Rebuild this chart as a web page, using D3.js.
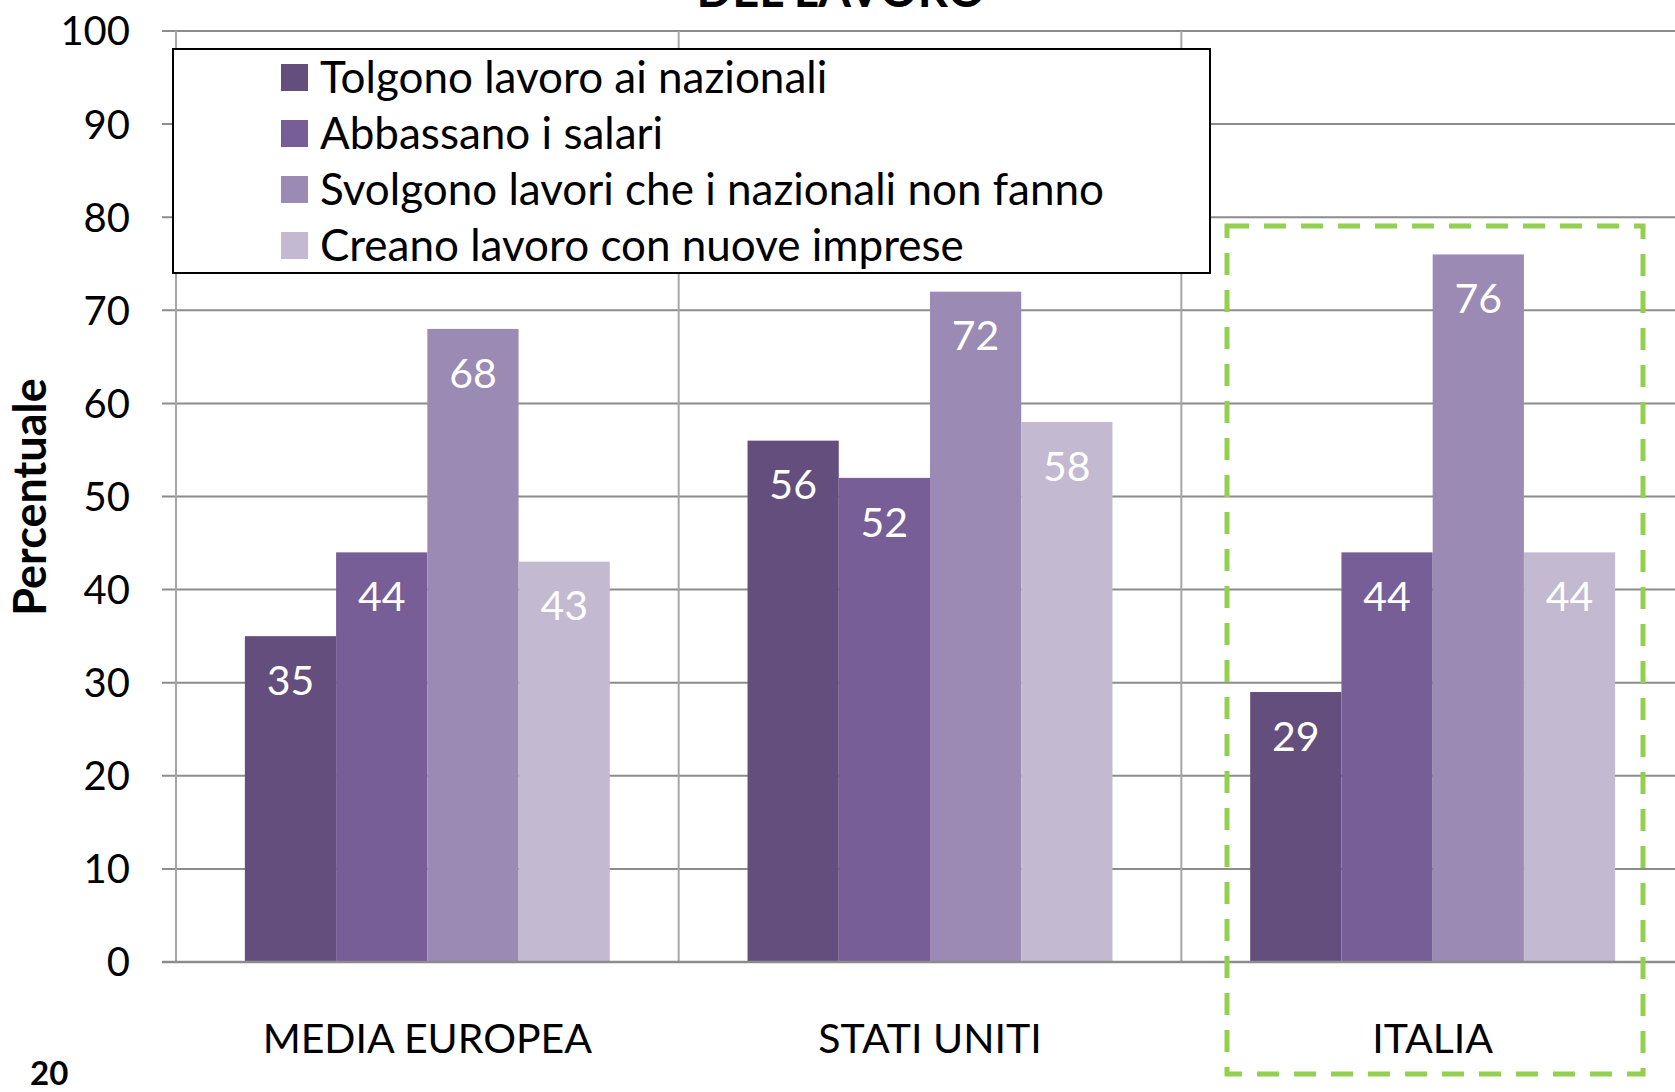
<!DOCTYPE html>
<html>
<head>
<meta charset="utf-8">
<script src="https://cdn.jsdelivr.net/npm/d3@7"></script>
<style>
  body { margin: 0; background: #fff; }
  svg { display: block; font-family: Lato, "Open Sans", sans-serif; }
</style>
</head>
<body>
<svg id="chart" width="1675" height="1092"></svg>
<script>
// data
const categories = ["MEDIA EUROPEA", "STATI UNITI", "ITALIA"];
const series = [
  "Tolgono lavoro ai nazionali",
  "Abbassano i salari",
  "Svolgono lavori che i nazionali non fanno",
  "Creano lavoro con nuove imprese",
];
const values = [
  [35, 44, 68, 43],
  [56, 52, 72, 58],
  [29, 44, 76, 44],
];
const yTicks = [0, 10, 20, 30, 40, 50, 60, 70, 80, 90, 100];
const colors = ["#634e7d", "#775e96", "#9b8ab3", "#c3b9d0"];

const svg = d3.select("#chart");
const width = 1675, height = 1092;

const plot = { left: 176, right: 1684, top: 31, bottom: 962 };

const x0 = d3.scaleBand().domain(categories).range([plot.left, plot.right]);
const gap = x0.bandwidth() * 0.137;
const x1 = d3.scaleBand().domain(series).range([gap, x0.bandwidth() - gap]);
const y = d3.scaleLinear().domain([0, 100]).range([plot.bottom, plot.top]);

// cut-off title at the very top
svg.append("text")
  .attr("x", 841).attr("y", 7)
  .attr("text-anchor", "middle")
  .attr("font-size", 47).attr("font-weight", "bold")
  .text("DEL LAVORO");

// horizontal gridlines (with tick stubs to the left)
svg.append("g")
  .selectAll("line")
  .data(yTicks)
  .join("line")
  .attr("x1", plot.left - 14).attr("x2", width)
  .attr("y1", (d) => y(d)).attr("y2", (d) => y(d))
  .attr("stroke", "#8c8c8c").attr("stroke-width", 2);

// vertical category separators
const seps = [plot.left, ...categories.slice(1).map((c) => x0(c))];
svg.append("g")
  .selectAll("line")
  .data(seps)
  .join("line")
  .attr("x1", (d) => d).attr("x2", (d) => d)
  .attr("y1", plot.top).attr("y2", plot.bottom)
  .attr("stroke", "#a6a6a6").attr("stroke-width", 2);

// y tick labels
svg.append("g")
  .selectAll("text")
  .data(yTicks)
  .join("text")
  .attr("x", 130).attr("y", (d) => y(d))
  .attr("dy", "0.36em")
  .attr("text-anchor", "end")
  .attr("font-size", 40)
  .text((d) => d);

// y axis title
svg.append("text")
  .attr("transform", "translate(30,497) rotate(-90)")
  .attr("dy", "0.36em")
  .attr("text-anchor", "middle")
  .attr("font-size", 45).attr("font-weight", "bold")
  .text("Percentuale");

// bars
const groups = svg.append("g")
  .selectAll("g")
  .data(categories)
  .join("g")
  .attr("transform", (d) => `translate(${x0(d)},0)`);

const cells = groups.selectAll("g")
  .data((d, i) => values[i].map((v, j) => ({ key: series[j], value: v, j })))
  .join("g");

cells.append("rect")
  .attr("x", (d) => x1(d.key))
  .attr("y", (d) => y(d.value))
  .attr("width", x1.bandwidth())
  .attr("height", (d) => y(0) - y(d.value))
  .attr("fill", (d) => colors[d.j]);

cells.append("text")
  .attr("x", (d) => x1(d.key) + x1.bandwidth() / 2)
  .attr("y", (d) => y(d.value) + 44)
  .attr("dy", "0.36em")
  .attr("text-anchor", "middle")
  .attr("font-size", 41)
  .attr("fill", "#fff")
  .text((d) => d.value);

// baseline
svg.append("line")
  .attr("x1", plot.left - 14).attr("x2", width)
  .attr("y1", y(0)).attr("y2", y(0))
  .attr("stroke", "#8c8c8c").attr("stroke-width", 2.5);

// category labels
svg.append("g")
  .selectAll("text")
  .data(categories)
  .join("text")
  .attr("x", (d) => x0(d) + x0.bandwidth() / 2)
  .attr("y", 1038)
  .attr("dy", "0.36em")
  .attr("text-anchor", "middle")
  .attr("font-size", 41)
  .text((d) => d);

// legend
const legend = svg.append("g");
legend.append("rect")
  .attr("x", 173).attr("y", 49)
  .attr("width", 1037).attr("height", 224)
  .attr("fill", "#fff").attr("stroke", "#000").attr("stroke-width", 2);

const items = legend.selectAll("g.item")
  .data(series)
  .join("g")
  .attr("class", "item")
  .attr("transform", (d, i) => `translate(281,${77 + i * 56})`);

items.append("rect")
  .attr("x", 0).attr("y", -13)
  .attr("width", 27).attr("height", 27)
  .attr("fill", (d, i) => colors[i]);

items.append("text")
  .attr("x", 39).attr("y", 0)
  .attr("dy", "0.36em")
  .attr("font-size", 44)
  .text((d) => d);

// green dashed highlight around ITALIA
svg.append("rect")
  .attr("x", 1227).attr("y", 226)
  .attr("width", 1643 - 1227).attr("height", 1074 - 226)
  .attr("fill", "none")
  .attr("stroke", "#92d050").attr("stroke-width", 5)
  .attr("stroke-dasharray", "22,15");

// page number
svg.append("text")
  .attr("x", 30).attr("y", 1073)
  .attr("dy", "0.36em")
  .attr("font-size", 33).attr("font-weight", "bold")
  .text("20");
</script>
</body>
</html>
